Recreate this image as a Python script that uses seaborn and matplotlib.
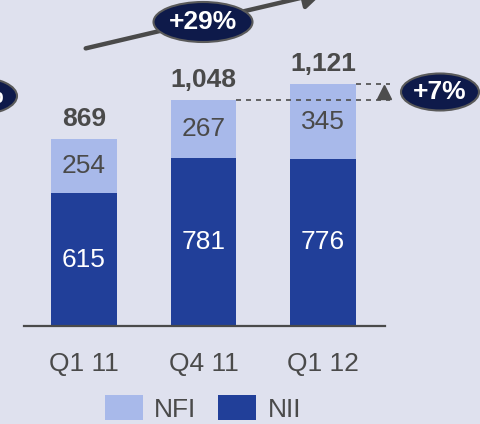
import matplotlib
matplotlib.use("Agg")
import matplotlib.pyplot as plt
import seaborn as sns
import pandas as pd
from matplotlib.patches import Ellipse, FancyArrowPatch, Patch

# ---- data ----
quarters = ["Q1 11", "Q4 11", "Q1 12"]
nii = [615, 781, 776]
nfi = [254, 267, 345]
totals = [a + b for a, b in zip(nii, nfi)]
growth_yoy = "+29%"
growth_qoq = "+7%"
growth_prev = "+9%"
legend_labels = ["NFI", "NII"]

# ---- style ----
BG = "#dfe1ee"
NFI_C = "#a8b9ea"
NII_C = "#213f99"
TXT = "#4a4a4a"
NAVY = "#0e1a4a"
GRAY = "#4d4d4d"
FS = 19

sns.set_theme(style="white")
plt.rcParams['font.family'] = ['Liberation Sans', 'DejaVu Sans']

W, H = 480, 424
fig = plt.figure(figsize=(W / 100, H / 100), dpi=100, facecolor=BG)
ax = fig.add_axes([0, 98 / H, 1, 326 / H])
ax.set_facecolor(BG)

df = pd.DataFrame({"quarter": quarters, "NII": nii, "NFI": nfi, "total": totals})
bw = 0.55
sns.barplot(data=df, x="quarter", y="total", color=NFI_C, width=bw,
            saturation=1, ax=ax, order=quarters, linewidth=0)
sns.barplot(data=df, x="quarter", y="NII", color=NII_C, width=bw,
            saturation=1, ax=ax, order=quarters, linewidth=0)

ax.set_xlim(-84 / 119.5, (W - 84) / 119.5)
ymax = 326 / 0.2155
ax.set_ylim(0, ymax)
ax.set_xlabel("")
ax.set_ylabel("")
ax.set_yticks([])
for s in ["left", "right", "top"]:
    ax.spines[s].set_visible(False)
ax.spines["bottom"].set_bounds(-0.5, 2.52)
ax.spines["bottom"].set_color(TXT)
ax.spines["bottom"].set_linewidth(1.6)
ax.tick_params(axis="x", length=0, pad=18.5, labelsize=FS, labelcolor=TXT)

px2y = ymax / 326.0
for i in range(len(quarters)):
    ax.text(i, totals[i] + 20 * px2y, f"{totals[i]:,}", ha="center", va="center",
            fontsize=FS, fontweight="bold", color=TXT)
    ax.text(i, nii[i] + nfi[i] / 2, f"{nfi[i]}", ha="center", va="center",
            fontsize=FS, color=TXT)
    ax.text(i, nii[i] / 2, f"{nii[i]}", ha="center", va="center",
            fontsize=FS, color="white")

# dashed comparison lines
x_end = (390 - 84) / 119.5
ax.plot([1 + bw / 2, x_end], [totals[1], totals[1]], ls=(0, (3, 3)), color=GRAY, lw=1.2)
ax.plot([2 + bw / 2, x_end], [totals[2], totals[2]], ls=(0, (3, 3)), color=GRAY, lw=1.2)
ax.plot([(383.5 - 84) / 119.5], [(totals[1] + totals[2]) / 2], marker="^",
        markersize=10.5, color=GRAY, ls="none")


def fx(px):
    return px / W


def fy(py):
    return 1 - py / H


# arrow
arr = FancyArrowPatch((fx(83), fy(49)), (fx(326), fy(-8)), transform=fig.transFigure,
                      arrowstyle="-|>,head_length=0.6,head_width=0.35", mutation_scale=20,
                      color="#4a4a4a", lw=3.2, zorder=2)
fig.add_artist(arr)


def badge(cx, cy, w, h, label):
    e = Ellipse((fx(cx), fy(cy)), w / W, h / H, transform=fig.transFigure,
                facecolor=NAVY, edgecolor="#5a5a5a", lw=1.5, zorder=3)
    fig.add_artist(e)
    fig.text(fx(cx), fy(cy), label, ha="center", va="center", color="white",
             fontsize=FS, fontweight="bold", zorder=4)


badge(203, 22, 99, 40, growth_yoy)
badge(440, 92, 78, 37, growth_qoq)
badge(-22, 96, 78, 37, growth_prev)

handles = [Patch(facecolor=NFI_C, edgecolor="none"), Patch(facecolor=NII_C, edgecolor="none")]
leg = fig.legend(handles, legend_labels, loc="center", bbox_to_anchor=(fx(203), fy(408.5)),
                 ncol=2, frameon=False, fontsize=FS, handlelength=1.44, handleheight=1.06,
                 handletextpad=0.42, columnspacing=0.84, borderpad=0, borderaxespad=0)
for t in leg.get_texts():
    t.set_color(TXT)

fig.savefig("out.png", dpi=100, facecolor=BG)
